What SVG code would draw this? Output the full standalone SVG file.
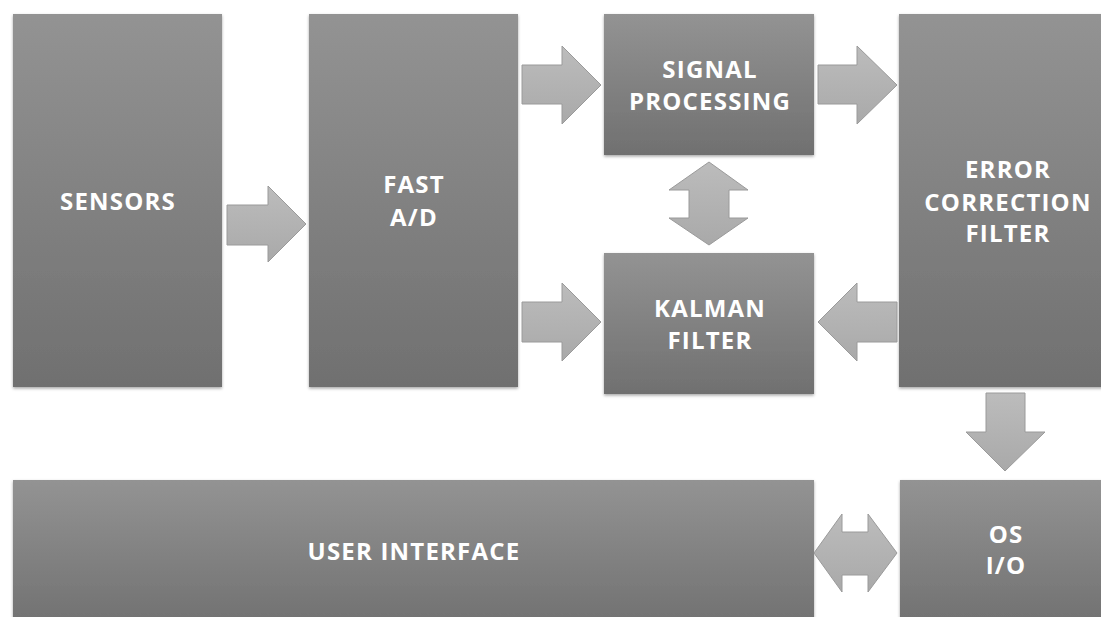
<svg xmlns="http://www.w3.org/2000/svg" width="1101" height="617" viewBox="0 0 1101 617">
<defs>
<linearGradient id="boxg" x1="0" y1="0" x2="0" y2="1">
<stop offset="0" stop-color="#939393"/>
<stop offset="1" stop-color="#707070"/>
</linearGradient>
<linearGradient id="arrg" x1="0" y1="0" x2="0" y2="1">
<stop offset="0" stop-color="#bcbcbc"/>
<stop offset="1" stop-color="#a9a9a9"/>
</linearGradient>
<filter id="sh" x="-5%" y="-5%" width="110%" height="110%">
<feDropShadow dx="0" dy="1.5" stdDeviation="1.5" flood-color="#000" flood-opacity="0.35"/>
</filter>
</defs>
<style>
.box{fill:url(#boxg);filter:url(#sh);}
.lbl{font-family:"Open Sans","Liberation Sans",sans-serif;font-weight:bold;font-size:24px;letter-spacing:1.2px;fill:#ffffff;text-anchor:middle;}
.arr{fill:url(#arrg);stroke:#9a9a9a;stroke-width:1;}
</style>
<rect width="1101" height="617" fill="#ffffff"/>
<g id="sensors"><rect class="box" x="13" y="14" width="209" height="373"/><text class="lbl" x="118" y="210">SENSORS</text></g>
<g id="fastad"><rect class="box" x="309" y="14" width="209" height="373"/><text class="lbl" x="414" y="193">FAST</text><text class="lbl" x="414" y="226">A/D</text></g>
<g id="signal"><rect class="box" x="604" y="14" width="210" height="141"/><text class="lbl" x="710" y="78">SIGNAL</text><text class="lbl" x="710" y="110">PROCESSING</text></g>
<g id="kalman"><rect class="box" x="604" y="253" width="210" height="141"/><text class="lbl" x="710" y="317">KALMAN</text><text class="lbl" x="710" y="349">FILTER</text></g>
<g id="errcorr"><rect class="box" x="899" y="14" width="220" height="373"/><text class="lbl" x="1008" y="178">ERROR</text><text class="lbl" x="1008" y="211">CORRECTION</text><text class="lbl" x="1008" y="242">FILTER</text></g>
<g id="ui"><rect class="box" x="13" y="480" width="801" height="150"/><text class="lbl" x="414" y="560">USER INTERFACE</text></g>
<g id="osio"><rect class="box" x="900" y="480" width="220" height="150"/><text class="lbl" x="1006" y="543">OS</text><text class="lbl" x="1006" y="574">I/O</text></g>
<g id="connectors">
<path class="arr" d="M227,205 H268 V186 L306,224 L268,262 V245 H227 Z"/>
<path class="arr" d="M522,65 H562 V46 L601,85 L562,124 V104 H522 Z"/>
<path class="arr" d="M818,65 H857 V46 L897,85 L857,124 V104 H818 Z"/>
<path class="arr" d="M522,302 H562 V283 L601,322 L562,361 V342 H522 Z"/>
<path class="arr" d="M897,302 H857 V283 L818,322 L857,361 V342 H897 Z"/>
<path class="arr" d="M709,162 L748,190 H729 V218 H748 L709,245 L669,218 H689 V190 H669 Z"/>
<path class="arr" d="M986,393 H1025 V432 H1045 L1005,471 L966,432 H986 Z"/>
<path class="arr" d="M814,553 L842,514 V532 H868 V514 L897,553 L868,592 V575 H842 V592 Z"/>
</g>
</svg>
